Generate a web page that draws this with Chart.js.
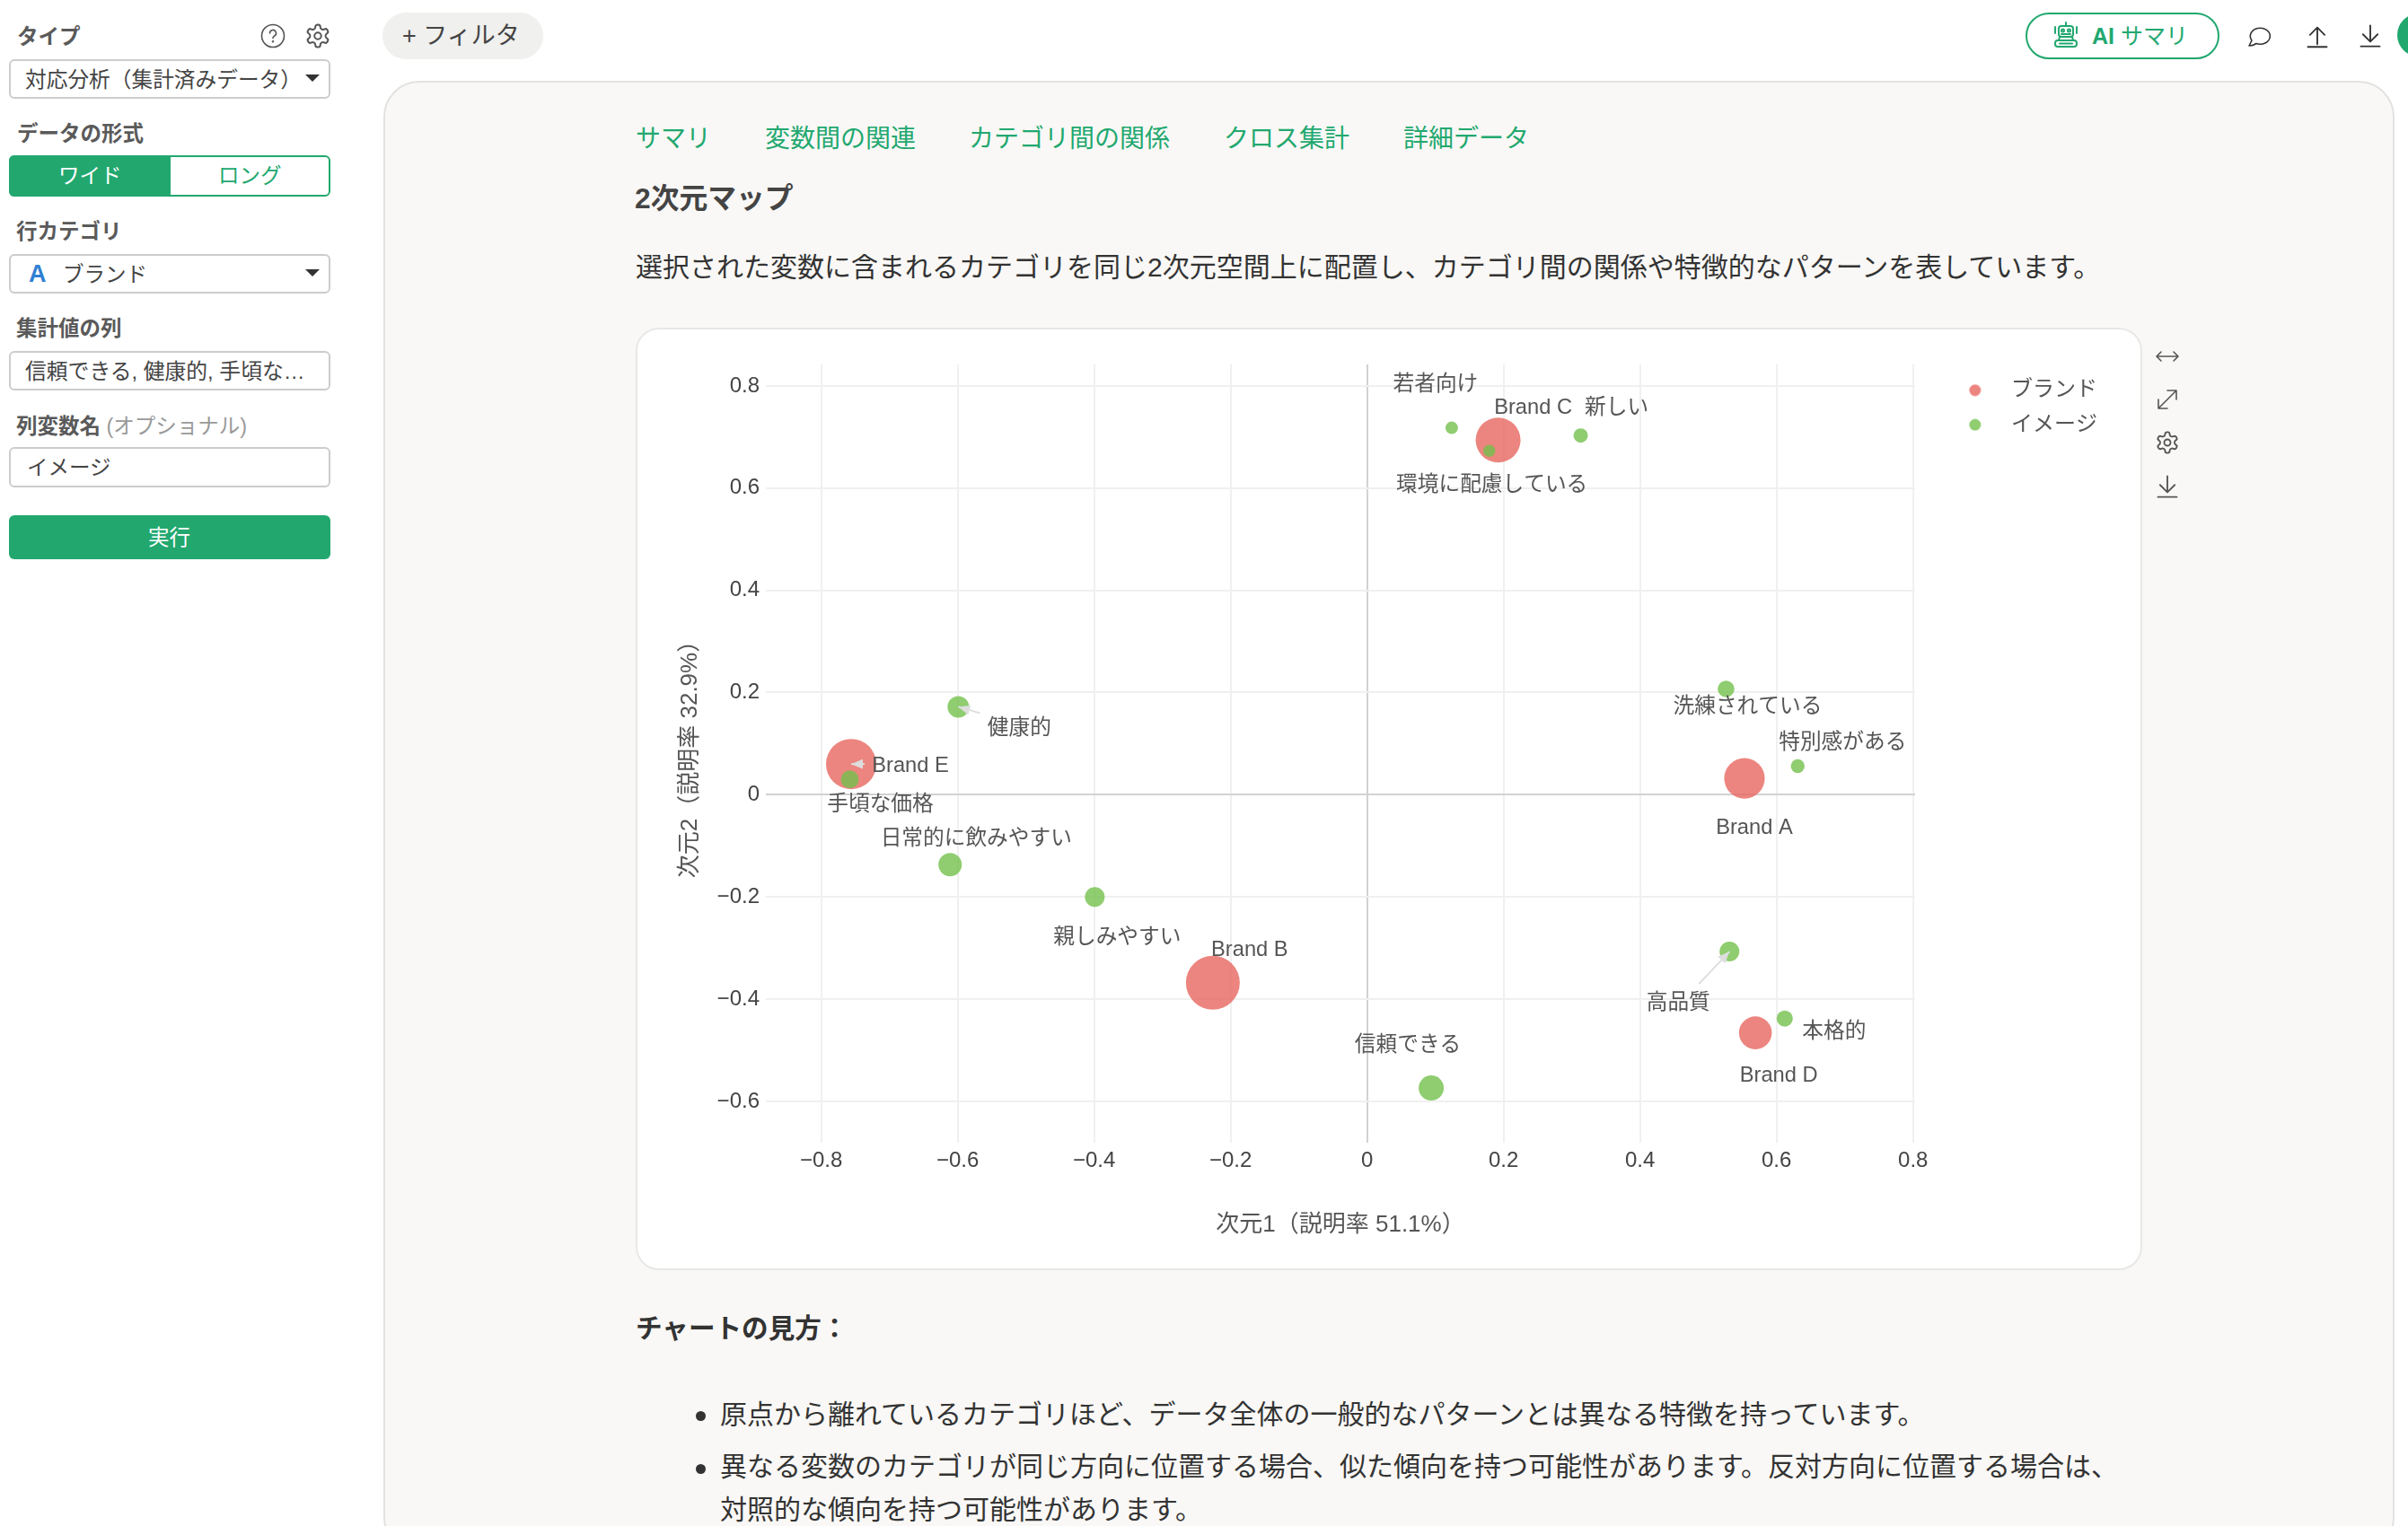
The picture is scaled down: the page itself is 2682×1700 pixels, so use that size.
<!DOCTYPE html>
<html lang="ja">
<head>
<meta charset="utf-8">
<title>対応分析</title>
<script src="https://cdn.jsdelivr.net/npm/chart.js@4/dist/chart.umd.min.js"></script>
<style>
  html, body { margin: 0; padding: 0; background: #fff; width: 2682px; height: 1700px; overflow: hidden; }
  body { position: relative; font-family: "Liberation Sans", "Noto Sans CJK JP", sans-serif; color: #444; }
  .t { position: absolute; white-space: nowrap; transform: translateY(-50%); line-height: 1.2; }
  .b { font-weight: 700; color: #5a5a5a; }
  .side { font-size: 23.5px; }
  .box { position: absolute; box-sizing: border-box; left: 10px; width: 358px; border: 2px solid #ccc; border-radius: 6px; background: #fff; }
  .caret { position: absolute; left: 340px; width: 0; height: 0; border-left: 8px solid transparent; border-right: 8px solid transparent; border-top: 8px solid #333; }
  .tab { font-size: 28px; color: #22a86f; }
  .body { font-size: 30px; color: #333; }
  .dot { position: absolute; width: 11px; height: 11px; border-radius: 50%; background: #333; }
  svg.i { position: absolute; fill: none; stroke: #555; stroke-width: 1.6; stroke-linecap: round; stroke-linejoin: round; }
</style>
</head>
<body>
<svg width="0" height="0" style="position:absolute">
  <symbol id="gear" viewBox="0 0 24 24"><path d="M12.22 2h-.44a2 2 0 0 0-2 2v.18a2 2 0 0 1-1 1.73l-.43.25a2 2 0 0 1-2 0l-.15-.08a2 2 0 0 0-2.73.73l-.22.38a2 2 0 0 0 .73 2.73l.15.1a2 2 0 0 1 1 1.72v.51a2 2 0 0 1-1 1.74l-.15.09a2 2 0 0 0-.73 2.73l.22.38a2 2 0 0 0 2.73.73l.15-.08a2 2 0 0 1 2 0l.43.25a2 2 0 0 1 1 1.73V20a2 2 0 0 0 2 2h.44a2 2 0 0 0 2-2v-.18a2 2 0 0 1 1-1.73l.43-.25a2 2 0 0 1 2 0l.15.08a2 2 0 0 0 2.73-.73l.22-.39a2 2 0 0 0-.73-2.73l-.15-.08a2 2 0 0 1-1-1.74v-.5a2 2 0 0 1 1-1.74l.15-.09a2 2 0 0 0 .73-2.73l-.22-.38a2 2 0 0 0-2.73-.73l-.15.08a2 2 0 0 1-2 0l-.43-.25a2 2 0 0 1-1-1.73V4a2 2 0 0 0-2-2z"/><circle cx="12" cy="12" r="3"/></symbol>
  <symbol id="down" viewBox="0 0 24 24"><path d="M12 2v15M5 10.5l7 7 7-7M3 22h18"/></symbol>
  <symbol id="up" viewBox="0 0 24 24"><path d="M12 20V4M5 11l7-7 7 7M3 22.5h18"/></symbol>
</svg>

<!-- sidebar -->
<div class="t b side" style="left:19px;top:41px">タイプ</div>
<svg class="i" style="left:290px;top:26px" width="28" height="28" viewBox="0 0 28 28"><circle cx="14" cy="14" r="12.5"/><path d="M10.5 11a3.5 3.5 0 1 1 5.2 3c-1.2.7-1.7 1.3-1.7 2.6"/><circle cx="14" cy="20.3" r=".5"/></svg>
<svg class="i" style="left:339px;top:25px" width="30" height="30"><use href="#gear"/></svg>
<div class="box" style="top:66px;height:44px"></div>
<div class="t side" style="left:28px;top:89px;font-size:23.7px">対応分析（集計済みデータ）</div>
<div class="caret" style="top:83px"></div>

<div class="t b side" style="left:19px;top:149px">データの形式</div>
<div style="position:absolute;box-sizing:border-box;left:10px;top:173px;width:358px;height:46px;border:2px solid #22a86f;border-radius:6px;background:#fff"></div>
<div style="position:absolute;left:10px;top:173px;width:180px;height:46px;background:#22a86f;border-radius:6px 0 0 6px"></div>
<div class="t side" style="left:65px;top:196px;color:#fff">ワイド</div>
<div class="t side" style="left:243px;top:196px;color:#22a86f">ロング</div>

<div class="t b side" style="left:18px;top:258px">行カテゴリ</div>
<div class="box" style="top:283px;height:44px"></div>
<div class="t" style="left:32px;top:305px;font-size:27px;font-weight:700;color:#2f80d3">A</div>
<div class="t side" style="left:70px;top:306px">ブランド</div>
<div class="caret" style="top:300px"></div>

<div class="t b side" style="left:18px;top:366px">集計値の列</div>
<div class="box" style="top:391px;height:44px"></div>
<div class="t side" style="left:28px;top:414px;font-size:23.8px">信頼できる, 健康的, 手頃な…</div>

<div class="t b side" style="left:18px;top:475px">列変数名 <span style="font-weight:400;color:#999">(オプショナル)</span></div>
<div class="box" style="top:498px;height:45px"></div>
<div class="t side" style="left:30px;top:521px">イメージ</div>

<div style="position:absolute;left:10px;top:574px;width:358px;height:49px;background:#22a86f;border-radius:6px"></div>
<div class="t side" style="left:165px;top:599px;color:#fff">実行</div>

<!-- top bar -->
<div style="position:absolute;left:426px;top:14px;width:179px;height:52px;background:#f0f0ee;border-radius:26px"></div>
<div class="t" style="left:448px;top:40px;font-size:27px;color:#444">+ フィルタ</div>
<div style="position:absolute;box-sizing:border-box;left:2256px;top:14px;width:216px;height:52px;border:2px solid #22a86f;border-radius:26px"></div>
<svg class="i" style="left:2286px;top:22px;stroke:#22a86f;stroke-width:2" width="30" height="32" viewBox="0 0 30 32"><rect x="7" y="7" width="16" height="12" rx="3"/><circle cx="11.5" cy="12" r="1.5"/><circle cx="18.5" cy="12" r="1.5"/><path d="M15 3v4M3 8v7M27 8v7M10 16h10"/><rect x="3" y="23" width="24" height="7" rx="3"/><path d="M8 19l-1 4M22 19l1 4M8 26.500h14"/></svg>
<div class="t" style="left:2330px;top:40px;font-size:25px;color:#22a86f"><b>AI</b> サマリ</div>
<svg class="i" style="left:2502px;top:26px;stroke:#333" width="30" height="28" viewBox="0 0 30 28"><path d="M3 25l3-6a11 9 0 1 1 5 3.500c-2 1.500-5 2.500-8 2.500z"/></svg>
<svg class="i" style="left:2567px;top:26px;stroke:#333" width="28" height="28"><use href="#up"/></svg>
<svg class="i" style="left:2626px;top:26px;stroke:#333" width="28" height="28"><use href="#down"/></svg>
<div style="position:absolute;left:2670px;top:15px;width:48px;height:48px;border-radius:50%;background:#22a86f"></div>

<!-- main panel -->
<div style="position:absolute;box-sizing:border-box;left:427px;top:90px;width:2240px;height:1640px;background:#f9f8f6;border:2px solid #e2e2e0;border-radius:40px"></div>
<div class="t tab" style="left:708px;top:155px">サマリ</div>
<div class="t tab" style="left:852px;top:155px">変数間の関連</div>
<div class="t tab" style="left:1079px;top:155px">カテゴリ間の関係</div>
<div class="t tab" style="left:1363px;top:155px">クロス集計</div>
<div class="t tab" style="left:1563px;top:155px">詳細データ</div>
<div class="t" style="left:707px;top:221px;font-size:31.8px;font-weight:700;color:#444">2次元マップ</div>
<div class="t body" style="left:708px;top:298px">選択された変数に含まれるカテゴリを同じ2次元空間上に配置し、カテゴリ間の関係や特徴的なパターンを表しています。</div>

<!-- chart card -->
<div style="position:absolute;box-sizing:border-box;left:708px;top:365px;width:1678px;height:1050px;background:#fff;border:2px solid #e8e8e6;border-radius:26px"></div>
<canvas id="myChart" width="1678" height="1049" style="position:absolute;left:708px;top:365px"></canvas>
<svg class="i" style="left:2400px;top:383px" width="28" height="28"><path d="M2 14h24M7 9l-5 5 5 5M21 9l5 5-5 5"/></svg>
<svg class="i" style="left:2400px;top:431px" width="28" height="28"><path d="M4 24L24 4M14 4h10v10M4 14v10h10"/></svg>
<svg class="i" style="left:2400px;top:479px" width="28" height="28"><use href="#gear"/></svg>
<svg class="i" style="left:2400px;top:528px" width="28" height="28"><use href="#down"/></svg>

<!-- text below -->
<div class="t" style="left:708px;top:1480px;font-size:29.6px;font-weight:700;color:#333">チャートの見方：</div>
<div class="dot" style="left:775px;top:1572px"></div>
<div class="t body" style="left:802px;top:1576px">原点から離れているカテゴリほど、データ全体の一般的なパターンとは異なる特徴を持っています。</div>
<div class="dot" style="left:775px;top:1631px"></div>
<div class="t body" style="left:802px;top:1634px">異なる変数のカテゴリが同じ方向に位置する場合、似た傾向を持つ可能性があります。反対方向に位置する場合は、</div>
<div class="t body" style="left:802px;top:1682px">対照的な傾向を持つ可能性があります。</div>

<script>
// values
const brandNames = ['Brand A', 'Brand B', 'Brand C', 'Brand D', 'Brand E'];
const brandX = [0.553, -0.226, 0.192, 0.569, -0.756];
const brandY = [0.032, -0.368, 0.694, -0.466, 0.060];
const brandMass = [5.1, 9.0, 6.25, 3.35, 7.84];

const imageNames = ['信頼できる', '健康的', '手頃な価格', '日常的に飲みやすい', '親しみやすい', '若者向け', '新しい', '環境に配慮している', '洗練されている', '特別感がある', '高品質', '本格的'];
const imageX = [0.094, -0.599, -0.758, -0.611, -0.399, 0.124, 0.313, 0.179, 0.526, 0.631, 0.531, 0.612];
const imageY = [-0.574, 0.172, 0.030, -0.137, -0.200, 0.718, 0.703, 0.673, 0.207, 0.056, -0.307, -0.438];
const imageMass = [1.96, 1.44, 1.0, 1.69, 1.21, 0.49, 0.64, 0.45, 0.86, 0.59, 1.21, 0.81];

const xTickValues = [-0.8, -0.6, -0.4, -0.2, 0, 0.2, 0.4, 0.6, 0.8];
const yTickValues = [-0.6, -0.4, -0.2, 0, 0.2, 0.4, 0.6, 0.8];

const seriesNames = ['ブランド', 'イメージ'];
const xTitle = '次元1（説明率 51.1%）';
const yTitle = '次元2（説明率 32.9%）';

const fontStack = '"Liberation Sans", "Noto Sans CJK JP", sans-serif';
const redDot = 'rgba(231, 102, 95, 0.8)';
const greenDot = 'rgba(115, 193, 76, 0.8)';

// pixel shift of each text label from its point
const labelShift = {
    'Brand A': [11, 55], 'Brand B': [41, -36], 'Brand C': [39, -36], 'Brand D': [26, 48], 'Brand E': [66, 2],
    '信頼できる': [-26, -48], '健康的': [68, 24], '手頃な価格': [34, 28], '日常的に飲みやすい': [29, -29], '親しみやすい': [25, 45],
    '若者向け': [-18, -48], '新しい': [40, -31], '環境に配慮している': [3, 38], '洗練されている': [24, 20], '特別感がある': [50, -26],
    '高品質': [-57, 57], '本格的': [55, 15]
};
// leader tails, also in pixels from the point
const leaderTail = { '健康的': [24, 7], 'Brand E': [15, 0], '高品質': [-34, 36] };

function bubbles(xs, ys, mass) {
    return xs.map((x, i) => ({ x: x, y: ys[i], r: Math.sqrt(mass[i]) * 10 }));
}

function tickText(v) {
    return String(v).replace('-', '\u2212');
}

// legend dot sits in a wide transparent strip so the text lands where it should
function legendDot(color) {
    const c = document.createElement('canvas');
    c.width = 116;
    c.height = 14;
    const g = c.getContext('2d');
    g.fillStyle = color;
    g.beginPath();
    g.arc(70, 7, 6.5, 0, Math.PI * 2);
    g.fill();
    return c;
}

const pointLabels = {
    id: 'pointLabels',
    afterDatasetsDraw(chart) {
        const ctx = chart.ctx;
        const x = chart.scales.x, y = chart.scales.y;
        ctx.save();
        const items = [[brandNames, brandX, brandY], [imageNames, imageX, imageY]];
        items.forEach(([names, xs, ys]) => {
            names.forEach((name, i) => {
                const px = x.getPixelForValue(xs[i]);
                const py = y.getPixelForValue(ys[i]);
                const tail = leaderTail[name];
                if (tail) {
                    const tx = px + tail[0], ty = py + tail[1];
                    const a = Math.atan2(ty - py, tx - px);
                    ctx.strokeStyle = '#dddddd';
                    ctx.fillStyle = '#dddddd';
                    ctx.lineWidth = 2;
                    ctx.beginPath();
                    ctx.moveTo(tx, ty);
                    ctx.lineTo(px, py);
                    ctx.stroke();
                    ctx.beginPath();
                    ctx.moveTo(px, py);
                    ctx.lineTo(px + 14 * Math.cos(a - 0.4), py + 14 * Math.sin(a - 0.4));
                    ctx.lineTo(px + 14 * Math.cos(a + 0.4), py + 14 * Math.sin(a + 0.4));
                    ctx.closePath();
                    ctx.fill();
                }
                const shift = labelShift[name];
                ctx.font = '23.7px ' + fontStack;
                ctx.fillStyle = '#555555';
                ctx.textAlign = 'center';
                ctx.textBaseline = 'middle';
                ctx.fillText(name, px + shift[0], py + shift[1]);
            });
        });
        ctx.restore();
    }
};

Chart.defaults.font.family = fontStack;
Chart.defaults.font.size = 24;

const gridColor = c => (c.tick && c.tick.value === 0 ? '#d2d2d2' : '#f0f0f0');

new Chart(document.getElementById('myChart'), {
    type: 'bubble',
    data: {
        datasets: [
            { label: seriesNames[0], data: bubbles(brandX, brandY, brandMass), backgroundColor: redDot, borderWidth: 0, hoverRadius: 0, order: 1 },
            { label: seriesNames[1], data: bubbles(imageX, imageY, imageMass), backgroundColor: greenDot, borderWidth: 0, hoverRadius: 0, order: 0 }
        ]
    },
    plugins: [pointLabels],
    options: {
        responsive: false,
        animation: false,
        events: [],
        layout: { autoPadding: false, padding: { left: 0, top: 41, right: 40, bottom: 0 } },
        plugins: {
            tooltip: { enabled: false },
            legend: {
                position: 'right',
                align: 'start',
                title: { display: true, text: ' ', font: { size: 1 }, padding: 0.5 },
                labels: {
                    usePointStyle: true,
                    pointStyleWidth: 80.5,
                    boxHeight: 14,
                    padding: 14.5,
                    color: '#555555',
                    font: { size: 24 },
                    sort: (a, b) => a.datasetIndex - b.datasetIndex,
                    generateLabels(chart) {
                        const items = Chart.defaults.plugins.legend.labels.generateLabels(chart);
                        items.forEach(item => {
                            item.pointStyle = legendDot(item.datasetIndex === 0 ? redDot : greenDot);
                        });
                        return items;
                    }
                }
            }
        },
        scales: {
            x: {
                type: 'linear',
                min: -0.881,
                max: 0.803,
                afterBuildTicks: s => { s.ticks = xTickValues.map(v => ({ value: v })); },
                afterFit: s => { s.height = 141; },
                border: { display: false },
                grid: { color: gridColor, lineWidth: 2, drawTicks: false },
                ticks: { autoSkip: false, maxRotation: 0, padding: 6, color: '#444444', callback: tickText },
                title: { display: true, text: xTitle, color: '#555555', font: { size: 26 }, padding: { top: 0, bottom: 34 } }
            },
            y: {
                type: 'linear',
                min: -0.681,
                max: 0.842,
                afterBuildTicks: s => { s.ticks = yTickValues.map(v => ({ value: v })); },
                afterFit: s => { s.width = 145; },
                border: { display: false },
                grid: { color: gridColor, lineWidth: 2, drawTicks: false },
                ticks: { autoSkip: false, padding: 7, color: '#444444', callback: tickText },
                title: { display: true, text: yTitle, color: '#555555', font: { size: 26 }, padding: { top: 45, bottom: 0 } }
            }
        }
    }
});
</script>
</body>
</html>
